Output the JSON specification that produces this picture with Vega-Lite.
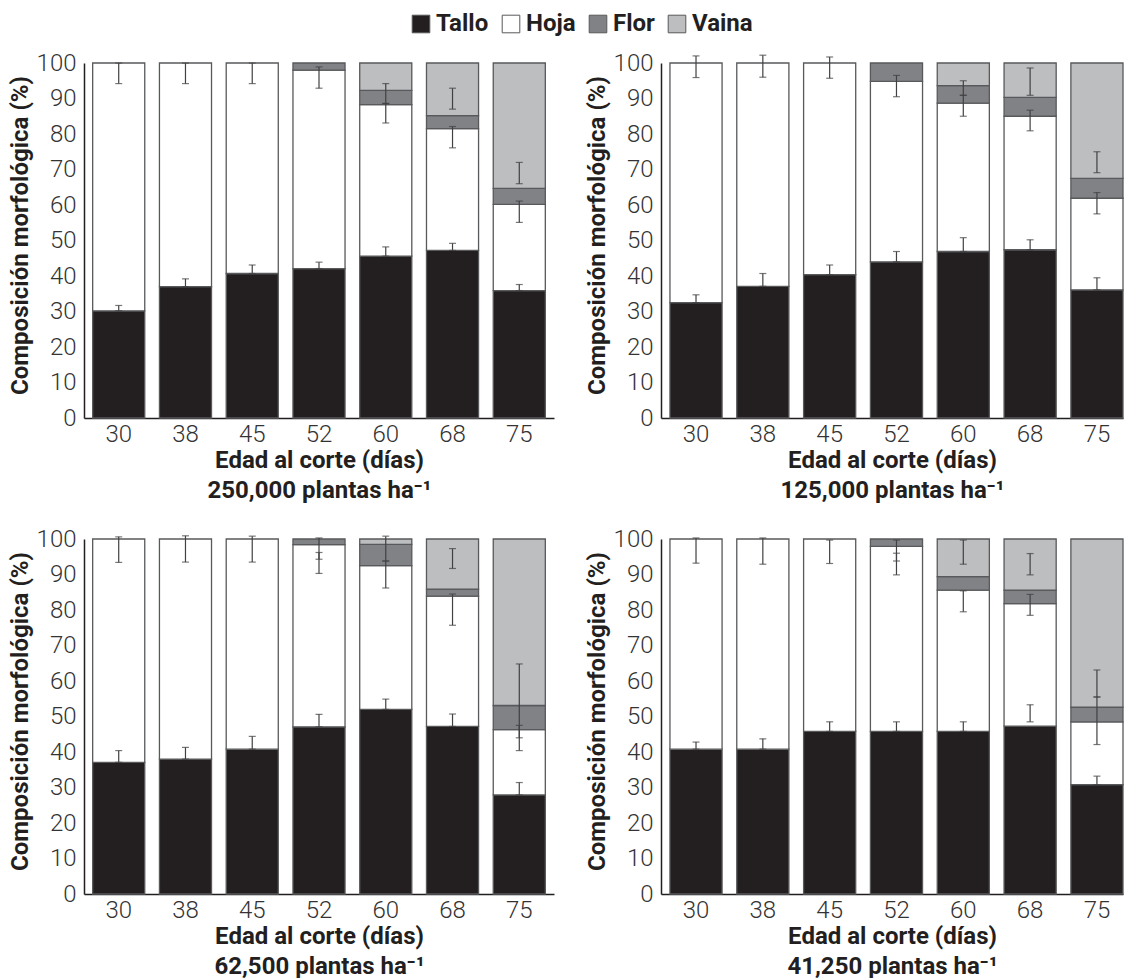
{
  "$schema": "https://vega.github.io/schema/vega-lite/v6.json",
  "background": "white",
  "padding": {"left": 8, "top": 12, "right": 0, "bottom": 0},
  "datasets": {
    "orden": [{"c":"Tallo","k":1},{"c":"Hoja","k":2},{"c":"Flor","k":3},{"c":"Vaina","k":4}],
    "bars": [
      {"p":1,"d":"30","c":"Tallo","v":30.2},{"p":1,"d":"30","c":"Hoja","v":69.8},
      {"p":1,"d":"38","c":"Tallo","v":37.0},{"p":1,"d":"38","c":"Hoja","v":63.0},
      {"p":1,"d":"45","c":"Tallo","v":40.7},{"p":1,"d":"45","c":"Hoja","v":59.3},
      {"p":1,"d":"52","c":"Tallo","v":42.1},{"p":1,"d":"52","c":"Hoja","v":55.9},{"p":1,"d":"52","c":"Flor","v":2.0},
      {"p":1,"d":"60","c":"Tallo","v":45.6},{"p":1,"d":"60","c":"Hoja","v":42.7},{"p":1,"d":"60","c":"Flor","v":4.0},{"p":1,"d":"60","c":"Vaina","v":7.7},
      {"p":1,"d":"68","c":"Tallo","v":47.2},{"p":1,"d":"68","c":"Hoja","v":34.3},{"p":1,"d":"68","c":"Flor","v":3.7},{"p":1,"d":"68","c":"Vaina","v":14.8},
      {"p":1,"d":"75","c":"Tallo","v":35.9},{"p":1,"d":"75","c":"Hoja","v":24.3},{"p":1,"d":"75","c":"Flor","v":4.5},{"p":1,"d":"75","c":"Vaina","v":35.3},

      {"p":2,"d":"30","c":"Tallo","v":32.5},{"p":2,"d":"30","c":"Hoja","v":67.5},
      {"p":2,"d":"38","c":"Tallo","v":37.1},{"p":2,"d":"38","c":"Hoja","v":62.9},
      {"p":2,"d":"45","c":"Tallo","v":40.4},{"p":2,"d":"45","c":"Hoja","v":59.6},
      {"p":2,"d":"52","c":"Tallo","v":44.0},{"p":2,"d":"52","c":"Hoja","v":50.8},{"p":2,"d":"52","c":"Flor","v":5.2},
      {"p":2,"d":"60","c":"Tallo","v":46.9},{"p":2,"d":"60","c":"Hoja","v":41.8},{"p":2,"d":"60","c":"Flor","v":4.9},{"p":2,"d":"60","c":"Vaina","v":6.4},
      {"p":2,"d":"68","c":"Tallo","v":47.4},{"p":2,"d":"68","c":"Hoja","v":37.6},{"p":2,"d":"68","c":"Flor","v":5.3},{"p":2,"d":"68","c":"Vaina","v":9.7},
      {"p":2,"d":"75","c":"Tallo","v":36.1},{"p":2,"d":"75","c":"Hoja","v":25.8},{"p":2,"d":"75","c":"Flor","v":5.6},{"p":2,"d":"75","c":"Vaina","v":32.5},

      {"p":3,"d":"30","c":"Tallo","v":37.1},{"p":3,"d":"30","c":"Hoja","v":62.9},
      {"p":3,"d":"38","c":"Tallo","v":38.0},{"p":3,"d":"38","c":"Hoja","v":62.0},
      {"p":3,"d":"45","c":"Tallo","v":40.8},{"p":3,"d":"45","c":"Hoja","v":59.2},
      {"p":3,"d":"52","c":"Tallo","v":47.1},{"p":3,"d":"52","c":"Hoja","v":51.3},{"p":3,"d":"52","c":"Flor","v":1.6},
      {"p":3,"d":"60","c":"Tallo","v":52.0},{"p":3,"d":"60","c":"Hoja","v":40.5},{"p":3,"d":"60","c":"Flor","v":6.0},{"p":3,"d":"60","c":"Vaina","v":1.5},
      {"p":3,"d":"68","c":"Tallo","v":47.2},{"p":3,"d":"68","c":"Hoja","v":36.7},{"p":3,"d":"68","c":"Flor","v":2.0},{"p":3,"d":"68","c":"Vaina","v":14.1},
      {"p":3,"d":"75","c":"Tallo","v":27.9},{"p":3,"d":"75","c":"Hoja","v":18.4},{"p":3,"d":"75","c":"Flor","v":6.8},{"p":3,"d":"75","c":"Vaina","v":46.9},

      {"p":4,"d":"30","c":"Tallo","v":40.8},{"p":4,"d":"30","c":"Hoja","v":59.2},
      {"p":4,"d":"38","c":"Tallo","v":40.8},{"p":4,"d":"38","c":"Hoja","v":59.2},
      {"p":4,"d":"45","c":"Tallo","v":45.8},{"p":4,"d":"45","c":"Hoja","v":54.2},
      {"p":4,"d":"52","c":"Tallo","v":45.8},{"p":4,"d":"52","c":"Hoja","v":52.1},{"p":4,"d":"52","c":"Flor","v":2.1},
      {"p":4,"d":"60","c":"Tallo","v":45.8},{"p":4,"d":"60","c":"Hoja","v":39.8},{"p":4,"d":"60","c":"Flor","v":3.8},{"p":4,"d":"60","c":"Vaina","v":10.6},
      {"p":4,"d":"68","c":"Tallo","v":47.3},{"p":4,"d":"68","c":"Hoja","v":34.5},{"p":4,"d":"68","c":"Flor","v":3.8},{"p":4,"d":"68","c":"Vaina","v":14.4},
      {"p":4,"d":"75","c":"Tallo","v":30.8},{"p":4,"d":"75","c":"Hoja","v":17.7},{"p":4,"d":"75","c":"Flor","v":4.1},{"p":4,"d":"75","c":"Vaina","v":47.4}
    ],
    "errs": [
      {"p":1,"d":"30","lo":30.2,"hi":31.7},{"p":1,"d":"30","lo":94.2,"hi":100},
      {"p":1,"d":"38","lo":37.0,"hi":39.2},{"p":1,"d":"38","lo":94.2,"hi":100},
      {"p":1,"d":"45","lo":40.7,"hi":43.1},{"p":1,"d":"45","lo":94.2,"hi":100},
      {"p":1,"d":"52","lo":42.1,"hi":43.9},{"p":1,"d":"52","lo":92.9,"hi":98.9},
      {"p":1,"d":"60","lo":45.6,"hi":48.2},{"p":1,"d":"60","lo":83.1,"hi":88.6},{"p":1,"d":"60","lo":88.6,"hi":94.2},
      {"p":1,"d":"68","lo":47.2,"hi":49.2},{"p":1,"d":"68","lo":76.1,"hi":82.1},{"p":1,"d":"68","lo":87.0,"hi":92.9},
      {"p":1,"d":"75","lo":35.9,"hi":37.6},{"p":1,"d":"75","lo":55.1,"hi":61.1},{"p":1,"d":"75","lo":66.0,"hi":72.0},

      {"p":2,"d":"30","lo":32.5,"hi":34.7},{"p":2,"d":"30","lo":95.9,"hi":102.0},
      {"p":2,"d":"38","lo":37.1,"hi":40.7},{"p":2,"d":"38","lo":96.0,"hi":102.2},
      {"p":2,"d":"45","lo":40.4,"hi":43.1},{"p":2,"d":"45","lo":95.7,"hi":101.7},
      {"p":2,"d":"52","lo":44.0,"hi":46.9},{"p":2,"d":"52","lo":90.5,"hi":96.5},
      {"p":2,"d":"60","lo":46.9,"hi":50.8},{"p":2,"d":"60","lo":85.0,"hi":90.9},{"p":2,"d":"60","lo":90.9,"hi":95.0},
      {"p":2,"d":"68","lo":47.4,"hi":50.2},{"p":2,"d":"68","lo":80.9,"hi":86.7},{"p":2,"d":"68","lo":90.9,"hi":98.6},
      {"p":2,"d":"75","lo":36.1,"hi":39.5},{"p":2,"d":"75","lo":57.5,"hi":63.5},{"p":2,"d":"75","lo":69.1,"hi":75.0},

      {"p":3,"d":"30","lo":37.1,"hi":40.4},{"p":3,"d":"30","lo":93.4,"hi":100.6},
      {"p":3,"d":"38","lo":38.0,"hi":41.3},{"p":3,"d":"38","lo":93.5,"hi":100.9},
      {"p":3,"d":"45","lo":40.8,"hi":44.4},{"p":3,"d":"45","lo":93.5,"hi":100.8},
      {"p":3,"d":"52","lo":47.1,"hi":50.6},{"p":3,"d":"52","lo":90.3,"hi":96.2},{"p":3,"d":"52","lo":94.3,"hi":100.3},
      {"p":3,"d":"60","lo":52.0,"hi":54.9},{"p":3,"d":"60","lo":86.2,"hi":93.8},{"p":3,"d":"60","lo":93.8,"hi":100.8},
      {"p":3,"d":"68","lo":47.2,"hi":50.7},{"p":3,"d":"68","lo":75.7,"hi":84.5},{"p":3,"d":"68","lo":91.7,"hi":97.3},
      {"p":3,"d":"75","lo":27.9,"hi":31.4},{"p":3,"d":"75","lo":40.4,"hi":47.5},{"p":3,"d":"75","lo":44.0,"hi":64.8},

      {"p":4,"d":"30","lo":40.8,"hi":42.8},{"p":4,"d":"30","lo":93.2,"hi":100.3},
      {"p":4,"d":"38","lo":40.8,"hi":43.7},{"p":4,"d":"38","lo":92.9,"hi":100.3},
      {"p":4,"d":"45","lo":45.8,"hi":48.5},{"p":4,"d":"45","lo":93.1,"hi":99.7},
      {"p":4,"d":"52","lo":45.8,"hi":48.5},{"p":4,"d":"52","lo":89.9,"hi":96.0},{"p":4,"d":"52","lo":93.8,"hi":99.7},
      {"p":4,"d":"60","lo":45.8,"hi":48.5},{"p":4,"d":"60","lo":79.5,"hi":85.4},{"p":4,"d":"60","lo":92.9,"hi":99.7},
      {"p":4,"d":"68","lo":48.5,"hi":53.3},{"p":4,"d":"68","lo":78.5,"hi":84.4},{"p":4,"d":"68","lo":89.9,"hi":95.9},
      {"p":4,"d":"75","lo":30.8,"hi":33.2},{"p":4,"d":"75","lo":42.1,"hi":55.5},{"p":4,"d":"75","lo":55.5,"hi":63.1}
    ]
  },
  "config": {
    "view": {"stroke": null},
    "font": "Roboto",
    "axis": {
      "ticks": false,
      "grid": false,
      "domainColor": "#231f20",
      "domainWidth": 1.5,
      "labelFont": "Roboto Light, Roboto",
      "labelFontWeight": 300,
      "labelFontSize": 24,
      "labelColor": "#333333",
      "labelOverlap": false,
      "labelSeparation": 0,
      "titleFont": "Roboto",
      "titleFontWeight": "bold",
      "titleFontSize": 24,
      "titleColor": "#231f20"
    },
    "axisY": {"labelOverlap": false, "tickCount": 11, "values": [0,10,20,30,40,50,60,70,80,90,100]},
    "legend": {
      "labelFont": "Roboto",
      "labelFontWeight": "bold",
      "labelFontSize": 24,
      "labelColor": "#231f20"
    }
  },
  "spacing": {"row": 25, "column": 31},
  "columns": 2,
  "resolve": {"scale": {"color": "shared"}, "legend": {"color": "shared"}},
  "concat": [
    {
      "width": 470, "height": 355,
      "layer": [
        {
          "data": {"name": "bars"},
          "transform": [{"filter": "datum.p == 1"}, {"lookup": "c", "from": {"data": {"name": "orden"}, "key": "c", "fields": ["k"]}}],
          "mark": {"type": "bar", "stroke": "#58595b", "strokeWidth": 1.3},
          "encoding": {
            "x": {"field": "d", "type": "nominal", "scale": {"domain": ["30","38","45","52","60","68","75"], "paddingInner": 0.22, "paddingOuter": 0.13},
                  "axis": {"labelAngle": 0, "labelPadding": 4, "titlePadding": 2, "titleLineHeight": 30, "title": ["Edad al corte (días)", "250,000 plantas ha⁻¹"]}},
            "y": {"field": "v", "type": "quantitative", "stack": "zero", "scale": {"domain": [0, 100], "nice": false},
                  "axis": {"values": [0,10,20,30,40,50,60,70,80,90,100], "tickCount": 11, "labelOverlap": false, "labelPadding": 8, "titlePadding": 4, "titleY": 172, "title": "Composición morfológica (%)"}},
            "order": {"field": "k", "type": "quantitative", "sort": "ascending"},
            "color": {"field": "c", "type": "nominal",
                      "scale": {"domain": ["Tallo","Hoja","Flor","Vaina"], "range": ["#231f20","#ffffff","#808285","#bcbec0"]},
                      "legend": {"title": null, "orient": "none", "direction": "horizontal", "legendX": 325, "legendY": -51, "symbolType": "square", "symbolSize": 310, "symbolStrokeColor": "#414042", "symbolStrokeWidth": 1, "symbolOpacity": 1, "labelOffset": 3, "columnPadding": 10, "padding": 0}}
          }
        },
        {
          "data": {"name": "errs"},
          "transform": [{"filter": "datum.p == 1"}],
          "mark": {"type": "errorbar", "color": "#414042", "thickness": 1.2, "ticks": {"size": 7, "color": "#414042"}},
          "encoding": {
            "x": {"field": "d", "type": "nominal"},
            "y": {"field": "lo", "type": "quantitative", "title": "Composición morfológica (%)", "axis": {"values": [0,10,20,30,40,50,60,70,80,90,100], "tickCount": 11, "labelOverlap": false}},
            "y2": {"field": "hi"}
          }
        }
      ]
    },
    {
      "width": 462, "height": 355,
      "layer": [
        {
          "data": {"name": "bars"},
          "transform": [{"filter": "datum.p == 2"}, {"lookup": "c", "from": {"data": {"name": "orden"}, "key": "c", "fields": ["k"]}}],
          "mark": {"type": "bar", "stroke": "#58595b", "strokeWidth": 1.3},
          "encoding": {
            "x": {"field": "d", "type": "nominal", "scale": {"domain": ["30","38","45","52","60","68","75"], "paddingInner": 0.22, "paddingOuter": 0.067, "align": 1},
                  "axis": {"labelAngle": 0, "labelPadding": 4, "titlePadding": 2, "titleLineHeight": 30, "title": ["Edad al corte (días)", "125,000 plantas ha⁻¹"]}},
            "y": {"field": "v", "type": "quantitative", "stack": "zero", "scale": {"domain": [0, 100], "nice": false},
                  "axis": {"values": [0,10,20,30,40,50,60,70,80,90,100], "tickCount": 11, "labelOverlap": false, "labelPadding": 8, "titlePadding": 4, "titleY": 172, "title": "Composición morfológica (%)"}},
            "order": {"field": "k", "type": "quantitative", "sort": "ascending"},
            "color": {"field": "c", "type": "nominal"}
          }
        },
        {
          "data": {"name": "errs"},
          "transform": [{"filter": "datum.p == 2"}],
          "mark": {"type": "errorbar", "color": "#414042", "thickness": 1.2, "ticks": {"size": 7, "color": "#414042"}},
          "encoding": {
            "x": {"field": "d", "type": "nominal"},
            "y": {"field": "lo", "type": "quantitative", "title": "Composición morfológica (%)", "axis": {"values": [0,10,20,30,40,50,60,70,80,90,100], "tickCount": 11, "labelOverlap": false}},
            "y2": {"field": "hi"}
          }
        }
      ]
    },
    {
      "width": 470, "height": 355,
      "layer": [
        {
          "data": {"name": "bars"},
          "transform": [{"filter": "datum.p == 3"}, {"lookup": "c", "from": {"data": {"name": "orden"}, "key": "c", "fields": ["k"]}}],
          "mark": {"type": "bar", "stroke": "#58595b", "strokeWidth": 1.3},
          "encoding": {
            "x": {"field": "d", "type": "nominal", "scale": {"domain": ["30","38","45","52","60","68","75"], "paddingInner": 0.22, "paddingOuter": 0.13},
                  "axis": {"labelAngle": 0, "labelPadding": 4, "titlePadding": 2, "titleLineHeight": 30, "title": ["Edad al corte (días)", "62,500 plantas ha⁻¹"]}},
            "y": {"field": "v", "type": "quantitative", "stack": "zero", "scale": {"domain": [0, 100], "nice": false},
                  "axis": {"values": [0,10,20,30,40,50,60,70,80,90,100], "tickCount": 11, "labelOverlap": false, "labelPadding": 8, "titlePadding": 4, "titleY": 172, "title": "Composición morfológica (%)"}},
            "order": {"field": "k", "type": "quantitative", "sort": "ascending"},
            "color": {"field": "c", "type": "nominal"}
          }
        },
        {
          "data": {"name": "errs"},
          "transform": [{"filter": "datum.p == 3"}],
          "mark": {"type": "errorbar", "color": "#414042", "thickness": 1.2, "ticks": {"size": 7, "color": "#414042"}},
          "encoding": {
            "x": {"field": "d", "type": "nominal"},
            "y": {"field": "lo", "type": "quantitative", "title": "Composición morfológica (%)", "axis": {"values": [0,10,20,30,40,50,60,70,80,90,100], "tickCount": 11, "labelOverlap": false}},
            "y2": {"field": "hi"}
          }
        }
      ]
    },
    {
      "width": 462, "height": 355,
      "layer": [
        {
          "data": {"name": "bars"},
          "transform": [{"filter": "datum.p == 4"}, {"lookup": "c", "from": {"data": {"name": "orden"}, "key": "c", "fields": ["k"]}}],
          "mark": {"type": "bar", "stroke": "#58595b", "strokeWidth": 1.3},
          "encoding": {
            "x": {"field": "d", "type": "nominal", "scale": {"domain": ["30","38","45","52","60","68","75"], "paddingInner": 0.22, "paddingOuter": 0.067, "align": 1},
                  "axis": {"labelAngle": 0, "labelPadding": 4, "titlePadding": 2, "titleLineHeight": 30, "title": ["Edad al corte (días)", "41,250 plantas ha⁻¹"]}},
            "y": {"field": "v", "type": "quantitative", "stack": "zero", "scale": {"domain": [0, 100], "nice": false},
                  "axis": {"values": [0,10,20,30,40,50,60,70,80,90,100], "tickCount": 11, "labelOverlap": false, "labelPadding": 8, "titlePadding": 4, "titleY": 172, "title": "Composición morfológica (%)"}},
            "order": {"field": "k", "type": "quantitative", "sort": "ascending"},
            "color": {"field": "c", "type": "nominal"}
          }
        },
        {
          "data": {"name": "errs"},
          "transform": [{"filter": "datum.p == 4"}],
          "mark": {"type": "errorbar", "color": "#414042", "thickness": 1.2, "ticks": {"size": 7, "color": "#414042"}},
          "encoding": {
            "x": {"field": "d", "type": "nominal"},
            "y": {"field": "lo", "type": "quantitative", "title": "Composición morfológica (%)", "axis": {"values": [0,10,20,30,40,50,60,70,80,90,100], "tickCount": 11, "labelOverlap": false}},
            "y2": {"field": "hi"}
          }
        }
      ]
    }
  ]
}
